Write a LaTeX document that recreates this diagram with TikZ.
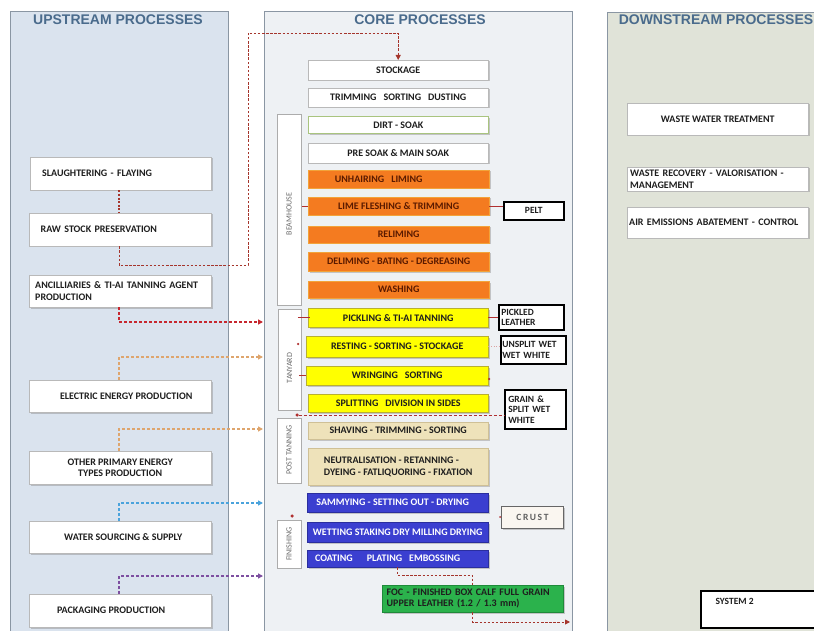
\documentclass[tikz,border=0pt]{standalone}
\usepackage{fontspec}
\setmainfont{Carlito}
\newfontfamily\ttlfam{Liberation Sans}
\usetikzlibrary{arrows.meta,shadows}
\definecolor{upfill}{HTML}{DAE3EE}
\definecolor{corefill}{HTML}{EEF1F4}
\definecolor{downfill}{HTML}{E0E3D8}
\definecolor{panelc}{HTML}{8A96A3}
\definecolor{ttlc}{HTML}{4A6B8C}
\definecolor{orangec}{HTML}{F47B20}
\definecolor{orangeb}{HTML}{F2A33A}
\definecolor{brownc}{HTML}{5A1A00}
\definecolor{yellowc}{HTML}{FFFF00}
\definecolor{yellowb}{HTML}{B8B030}
\definecolor{beigec}{HTML}{EEE2BA}
\definecolor{beigeb}{HTML}{CFC096}
\definecolor{bluec}{HTML}{3B3FD0}
\definecolor{blueb}{HTML}{2A2E9E}
\definecolor{greenc}{HTML}{2BB24C}
\definecolor{greenb}{HTML}{1F8A3A}
\definecolor{dirtb}{HTML}{A9C47F}
\definecolor{txtc}{HTML}{1E1E1E}
\definecolor{rawcol}{HTML}{A5352C}
\definecolor{anccol}{HTML}{C6262E}
\definecolor{tancol}{HTML}{DEA56D}
\definecolor{watcol}{HTML}{4AA3DC}
\definecolor{purcol}{HTML}{7D4FA0}
\definecolor{tickcol}{HTML}{B03030}
\definecolor{crustfill}{HTML}{FAF6F0}
\newcommand{\bxfont}{\fontsize{10}{11.5}\selectfont\bfseries}
\newcommand{\outfnt}{\fontsize{9.5}{10.5}\selectfont\bfseries}
\newcommand{\stgfnt}{\fontsize{8}{9}\selectfont}
\newcommand{\gap}{\hspace{0.7em}}
\newcommand{\bx}[7]{\node[#2,anchor=north west,minimum width={(#5)-(#3)},minimum height={(#6)-(#4)}] (#1) at (#3,#4) {#7};}
\begin{document}
\begin{tikzpicture}[x=1pt,y=-1pt,
  panel/.style={draw=panelc,line width=0.9pt},
  ttl/.style={font=\ttlfam\bfseries\fontsize{14}{16}\selectfont,text=ttlc},
  shad/.style={drop shadow={shadow xshift=1.3pt,shadow yshift=-1.3pt,opacity=0.4}},
  wbox/.style={shad,draw=gray!55,fill=white,font=\bxfont,text=txtc,inner sep=1pt,align=center},
  dirtbox/.style={wbox,draw=dirtb,line width=0.8pt},
  obox/.style={shad,draw=orangeb,fill=orangec,font=\bxfont,text=brownc,inner sep=1pt,align=center},
  ybox/.style={shad,draw=yellowb,fill=yellowc,font=\bxfont,text=txtc,inner sep=1pt,align=center},
  bgbox/.style={shad,draw=beigeb,fill=beigec,font=\bxfont,text=txtc,inner sep=1pt,align=center},
  blbox/.style={shad,draw=blueb,fill=bluec,font=\bxfont,text=white,inner sep=1pt,align=center},
  gbox/.style={shad,draw=greenb,fill=greenc,font=\bxfont,text=txtc,inner sep=1pt,align=left},
  stagebox/.style={draw=gray!65,fill=white,line width=0.9pt,inner sep=0pt},
  stagelbl/.style={rotate=90,font=\stgfnt,text=gray!85!black},
  outbox/.style={draw=black,line width=1.6pt,fill=white,font=\outfnt,text=txtc,inner sep=1pt,align=left},
  crbox/.style={shad,draw=gray!80!black,line width=0.9pt,fill=crustfill,font=\outfnt,text=gray!75!black},
  tip/.style={-{Triangle[length=5pt,width=5pt]}},
  rawc/.style={draw=rawcol,line width=0.9pt,dash pattern=on 2.5pt off 1.6pt},
  slc/.style={draw=rawcol,line width=1.5pt,dash pattern=on 2pt off 1.6pt},
  ancc/.style={draw=anccol,line width=1.6pt,dash pattern=on 3pt off 2pt,tip},
  tanc/.style={draw=tancol,line width=1.6pt,dash pattern=on 3pt off 2pt,tip},
  watc/.style={draw=watcol,line width=1.6pt,dash pattern=on 3pt off 2pt,tip},
  purc/.style={draw=purcol,line width=1.2pt,dash pattern=on 3pt off 2pt,tip},
  tick/.style={draw=tickcol,line width=1.2pt},
  dot/.style={circle,fill=tickcol,inner sep=0pt,minimum size=3.5pt}
]
\useasboundingbox (0,0) rectangle (814,631);
\clip (0,0) rectangle (814,631);
\fill[white] (0,0) rectangle (814,631);
% panels
\bx{up}{panel,fill=upfill}{10}{11}{228}{645}{}
\bx{core}{panel,fill=corefill}{264}{11}{572}{645}{}
\bx{down}{panel,fill=downfill}{607}{12}{840}{645}{}
\node[ttl] (upt) at (118,20) {UPSTREAM PROCESSES};
\node[ttl] (coret) at (420,20) {CORE PROCESSES};
\node[ttl] (downt) at (716,20) {DOWNSTREAM PROCESSES};
% upstream boxes
\bx{slau}{wbox,align=left,text width=157pt}{30}{157}{211}{190}{SLAUGHTERING - FLAYING}
\bx{raw}{wbox,align=left,text width=159pt}{29}{213}{211}{246}{RAW STOCK PRESERVATION}
\bx{anc}{wbox,align=left,text width=170pt}{29}{275}{211}{307}{ANCILLIARIES \& TI-AI TANNING AGENT\\PRODUCTION}
\bx{elec}{wbox}{29}{380}{211}{412}{\hspace{12pt}ELECTRIC ENERGY PRODUCTION}
\bx{oth}{wbox}{29}{451}{211}{484}{OTHER PRIMARY ENERGY\\TYPES PRODUCTION}
\bx{water}{wbox}{29}{521}{211}{553}{\hspace{6pt}WATER SOURCING \& SUPPLY}
\bx{pack}{wbox}{29}{594}{211}{627}{PACKAGING PRODUCTION\hspace{18pt}}
% stage boxes
\bx{bh}{stagebox}{277}{114}{301}{305}{}
\bx{ty}{stagebox}{278}{309}{301}{410}{}
\bx{pt}{stagebox}{277}{418}{301}{483}{}
\bx{fin}{stagebox}{277}{520}{301}{568}{}
\node[stagelbl] (bhl) at (289,214) {BEAMHOUSE};
\node[stagelbl] (tyl) at (289.5,368) {TANYARD};
\node[stagelbl] (ptl) at (289,450) {POST TANNING};
\node[stagelbl] (finl) at (289,544) {FINISHING};
% core boxes
\bx{stk}{wbox}{308}{60}{488}{80}{STOCKAGE}
\bx{trim}{wbox}{308}{88}{488}{107}{TRIMMING\gap SORTING\gap DUSTING}
\bx{dirt}{dirtbox}{308}{116}{488}{133}{DIRT - SOAK}
\bx{pre}{wbox}{308}{143}{488}{163}{PRE SOAK \& MAIN SOAK}
\bx{unhair}{obox}{308}{170}{489}{188}{UNHAIRING\gap LIMING\hspace{40pt}}
\bx{lime}{obox}{308}{197}{489}{215}{LIME FLESHING \& TRIMMING}
\bx{relime}{obox}{308}{226}{489}{243}{RELIMING}
\bx{delime}{obox}{308}{252}{489}{271}{DELIMING - BATING - DEGREASING}
\bx{wash}{obox}{308}{281}{489}{298}{WASHING}
\bx{pickle}{ybox}{308}{308}{488}{327}{PICKLING \& TI-AI TANNING}
\bx{rest}{ybox}{306}{336}{488}{357}{RESTING - SORTING - STOCKAGE}
\bx{wring}{ybox}{306}{366}{488}{385}{WRINGING\gap SORTING}
\bx{split}{ybox}{308}{394}{488}{412}{SPLITTING\gap DIVISION IN SIDES}
\bx{shave}{bgbox}{308}{422}{488}{439}{SHAVING - TRIMMING - SORTING}
\bx{neut}{bgbox,align=left}{308}{448}{488}{485}{NEUTRALISATION - RETANNING -\\DYEING - FATLIQUORING - FIXATION}
\bx{samm}{blbox}{307}{493}{488}{512}{SAMMYING - SETTING OUT - DRYING\hspace{10pt}}
\bx{wet}{blbox}{307}{522}{488}{542}{WETTING STAKING DRY MILLING DRYING}
\bx{coat}{blbox}{307}{550}{488}{567}{COATING\gap\gap PLATING\gap EMBOSSING\hspace{20pt}}
\bx{foc}{gbox,text width=172pt}{382}{585}{563}{612}{FOC - FINISHED BOX CALF FULL GRAIN\\UPPER LEATHER (1.2 / 1.3 mm)}
% output boxes
\bx{pelt}{outbox,align=center}{503}{201}{563}{219}{PELT}
\bx{pkl}{outbox,text width=60pt}{498}{304}{563}{329}{PICKLED\\LEATHER}
\bx{unsplit}{outbox,text width=62pt}{500}{335}{565}{363}{UNSPLIT WET\\WET WHITE}
\bx{grain}{outbox,text width=54pt}{504}{389}{565}{428}{GRAIN \&\\SPLIT WET\\WHITE}
\bx{crust}{crbox}{501}{506}{563}{528}{C\,R\,U\,S\,T}
% downstream boxes
\bx{wwt}{wbox}{627}{103}{808}{135}{WASTE WATER TREATMENT}
\bx{wrv}{wbox,align=left,text width=175pt}{627}{167}{808}{191}{WASTE RECOVERY - VALORISATION -\\MANAGEMENT}
\bx{air}{wbox,align=left,text width=177pt}{627}{207}{808}{238}{AIR EMISSIONS ABATEMENT - CONTROL}
\bx{sys}{outbox}{700}{590}{840}{627}{}
\node[font=\outfnt,text=txtc,anchor=west] (syst) at (712,601) {SYSTEM 2};
% upstream connectors
\coordinate (xu) at (119,0);
\coordinate (r1) at (248,265);
\coordinate (r2) at (248,33);
\coordinate (a1) at (263,322);
\coordinate (e1) at (263,357);
\coordinate (o1) at (263,429);
\coordinate (w1) at (263,503);
\coordinate (p1) at (263,576);
\draw[slc] (slau.south -| xu) -- (raw.north -| xu);
\draw[rawc,tip] (raw.south -| xu) |- (r1) -- (r2) -| (stk.north);
\draw[ancc] (anc.south -| xu) |- (a1);
\draw[tanc] (elec.north -| xu) |- (e1);
\draw[tanc] (oth.north -| xu) |- (o1);
\draw[watc] (water.north -| xu) |- (w1);
\draw[purc] (pack.north -| xu) |- (p1);
% stage ticks
\draw[tick] (bh.east |- lime.west) -- (lime.west);
\draw[tick] ([xshift=-4pt]ty.east |- pickle.west) -- ([xshift=2pt]pickle.west);
\draw[tick] ([xshift=-3pt]ty.east |- wring.west) -- (wring.west);
\node[dot,minimum size=2.5pt] (rdot) at (298,344) {};
\node[dot] (sdot) at (297,415) {};
\draw[tick,line width=0.9pt,dash pattern=on 3pt off 2pt] (sdot) -- (grain.west |- sdot);
\node[dot] (fdot) at (292,516) {};
% outputs
\draw[tick] (lime.east) -- (lime.east -| pelt.west);
\draw[tick] (pickle.east) -- (pickle.east -| pkl.west);
\draw[draw=tickcol!45,line width=0.6pt,dotted] (rest.east) -- (rest.east -| unsplit.west);
\node[dot,minimum size=2.5pt] (wdot) at (489,379) {};
\node[dot,minimum size=2pt] (cdot) at (500,517) {};
% finishing to product
\draw[rawc] (coat.south) -- ++(0,8) -| (foc.north);
\coordinate (fo) at (570,622);
\draw[rawc,tip] (foc.south) |- (fo);
\end{tikzpicture}
\end{document}
